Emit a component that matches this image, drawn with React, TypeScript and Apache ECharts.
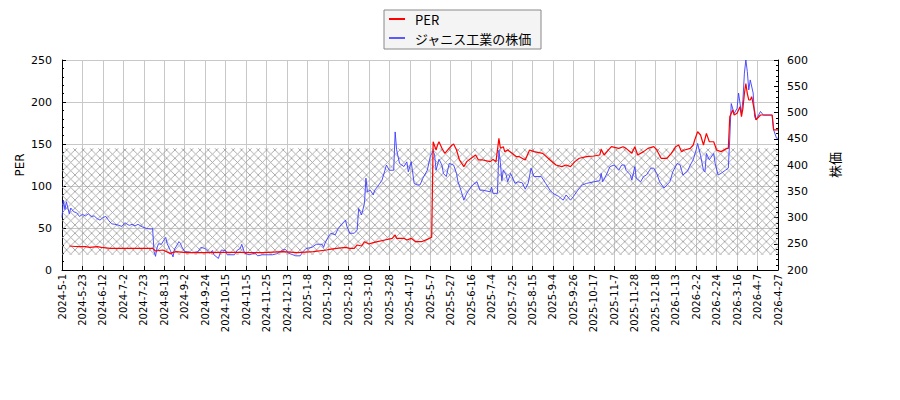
import { useRef, useEffect } from "react";
import * as echarts from "echarts";

// x values are trading-day indices; a tick label every 14 trading days
const TICK_STEP = 14;
const tickLabels = [
  "2024-5-1", "2024-5-23", "2024-6-12", "2024-7-2", "2024-7-23", "2024-8-13",
  "2024-9-2", "2024-9-24", "2024-10-15", "2024-11-5", "2024-11-25", "2024-12-13",
  "2025-1-8", "2025-1-29", "2025-2-18", "2025-3-10", "2025-3-28", "2025-4-17",
  "2025-5-7", "2025-5-27", "2025-6-16", "2025-7-4", "2025-7-25", "2025-8-15",
  "2025-9-4", "2025-9-26", "2025-10-17", "2025-11-7", "2025-11-28", "2025-12-18",
  "2026-1-13", "2026-2-2", "2026-2-24", "2026-3-16", "2026-4-7", "2026-4-27",
];

const perSeries: [number, number][] = [
  [5, 28.6], [9, 28], [12, 27.8], [16, 27.8], [19, 27], [24, 27.8], [27, 27], [33, 25.8],
  [46, 25.8], [60, 25.8], [62, 25.8], [64, 22.6], [69, 23.8], [74, 19.8], [78, 21.8],
  [85, 20.6], [97, 20.6], [110, 21], [122, 21], [129, 20.6], [138, 20.6], [151, 21.8],
  [161, 20.6], [172, 21.8], [181, 23.8], [183, 24.6], [188, 25.8], [194, 27], [197, 25.8],
  [200, 25.8], [202, 29.8], [205, 28.6], [207, 33.7], [210, 31], [213, 32.5], [216, 33.7],
  [221, 35.7], [226, 37.7], [228, 41.7], [229, 37.7], [234, 37.7], [236, 35.7], [239, 37.7],
  [242, 33.7], [246, 33.7], [250, 36.5], [253, 38.9], [254, 152.7], [256, 142.9],
  [257, 148.8], [258, 152.7], [260, 145], [262, 138.9], [264, 142.9], [267, 148.8],
  [268, 150], [270, 142.9], [272, 131], [275, 123], [277, 129], [280, 133], [283, 137],
  [285, 131], [288, 131], [293, 129], [295, 131.7], [297, 129], [299, 156.7], [300, 145],
  [302, 146.8], [303, 140.9], [305, 142.9], [308, 138.9], [311, 134.9], [313, 134.9],
  [317, 131], [320, 142.9], [323, 140.9], [329, 138.9], [334, 131], [338, 125], [342, 123],
  [345, 125], [348, 123], [351, 129], [354, 133], [359, 134.9], [364, 135.7], [368, 136.9],
  [369, 143.7], [371, 136.9], [374, 142.9], [376, 146.8], [381, 144.8], [384, 146.8],
  [386, 144.8], [390, 138.9], [392, 146.8], [394, 136.9], [398, 140.9], [401, 144.8],
  [405, 146.8], [407, 142.9], [410, 133], [414, 133], [417, 138.9], [420, 146.8],
  [422, 148.8], [424, 140.9], [426, 142.9], [430, 144.8], [432, 148.8], [433, 154.8],
  [435, 164.6], [437, 160.7], [439, 148.8], [441, 162.7], [443, 152.7], [446, 152.7],
  [448, 142.9], [451, 140.9], [455, 144.8], [456, 144.8], [457, 182.5], [459, 190.5],
  [460, 184.5], [462, 186.5], [464, 194.4], [465, 182.5], [466, 192.5], [467, 210],
  [468, 222], [469, 210], [470, 202.4], [471, 202.4], [472, 206.3], [474, 188.5],
  [475, 178.6], [478, 184.5], [486, 184.5], [487, 166.7], [490, 166.7],
];

const priceSeries: [number, number][] = [
  [0, 300], [1, 333], [2, 315], [3, 330], [5, 307], [6, 318], [8, 311], [10, 309], [12, 302],
  [14, 306], [16, 303], [18, 307], [20, 302], [22, 303], [24, 298], [26, 295], [28, 300],
  [30, 302], [32, 294], [34, 288], [36, 287], [38, 286], [41, 283], [43, 290], [46, 285],
  [48, 287], [50, 284], [52, 287], [55, 282], [58, 279], [61, 278], [62, 279], [63, 235],
  [64, 226], [65, 242], [66, 250], [68, 249], [70, 258], [71, 262], [72, 250], [74, 238],
  [76, 225], [77, 240], [78, 244], [80, 254], [81, 251], [82, 244], [84, 235], [86, 235],
  [89, 233], [93, 235], [95, 243], [98, 241], [101, 232], [103, 237], [104, 229], [107, 222],
  [109, 238], [112, 237], [113, 229], [118, 229], [120, 238], [122, 241], [123, 249],
  [125, 232], [128, 229], [132, 232], [134, 227], [137, 229], [141, 229], [144, 229],
  [147, 231], [151, 238], [153, 239], [155, 232], [158, 229], [160, 227], [163, 227],
  [165, 235], [167, 241], [171, 243], [174, 249], [178, 249], [179, 243], [180, 251],
  [182, 262], [184, 270], [187, 267], [189, 279], [191, 286], [194, 295], [195, 283],
  [197, 270], [200, 270], [202, 276], [203, 317], [205, 305], [207, 327], [208, 375],
  [209, 349], [211, 352], [213, 343], [214, 352], [216, 359], [219, 371], [221, 390],
  [222, 400], [224, 390], [227, 390], [228, 463], [229, 429], [231, 403], [234, 397],
  [236, 406], [237, 387], [239, 406], [241, 365], [243, 362], [245, 362], [247, 375],
  [250, 390], [252, 416], [254, 427], [255, 419], [256, 390], [258, 411], [260, 400],
  [261, 384], [263, 378], [265, 403], [268, 400], [270, 384], [271, 368], [273, 352],
  [275, 333], [277, 346], [279, 354], [281, 362], [284, 368], [286, 352], [288, 352],
  [293, 349], [294, 358], [295, 346], [298, 346], [299, 428], [300, 405], [301, 370],
  [302, 390], [304, 381], [305, 368], [307, 384], [308, 378], [310, 365], [312, 368],
  [315, 366], [317, 354], [319, 365], [321, 394], [323, 378], [328, 378], [331, 365],
  [334, 352], [336, 346], [340, 340], [343, 333], [345, 343], [348, 333], [350, 340],
  [353, 352], [356, 362], [359, 365], [364, 368], [368, 370], [369, 384], [370, 368],
  [373, 384], [375, 397], [378, 400], [381, 390], [383, 400], [385, 400], [386, 390],
  [389, 381], [390, 371], [392, 397], [393, 375], [396, 368], [398, 378], [400, 381],
  [403, 394], [405, 394], [407, 384], [409, 368], [412, 356], [414, 362], [416, 368],
  [418, 387], [421, 403], [423, 400], [424, 390], [425, 381], [428, 388], [430, 400],
  [432, 410], [434, 429], [435, 441], [437, 418], [439, 390], [440, 387], [441, 422],
  [443, 410], [446, 422], [447, 403], [449, 381], [451, 384], [454, 390], [456, 394],
  [457, 451], [458, 517], [460, 498], [462, 508], [463, 537], [465, 498], [466, 524],
  [467, 575], [468, 600], [469, 578], [470, 543], [471, 562], [473, 537], [474, 492],
  [475, 486], [478, 502], [480, 495], [486, 495], [487, 467], [489, 451], [490, 451],
];

// hatched PER band
const hatchBand = [18, 145];

const FONT = "DejaVu Sans, Noto Sans CJK JP, sans-serif";
const GRID_GRAY = "#c8c8c8";

const HATCH = 8.33;
const hatchSvg =
  `<svg xmlns="http://www.w3.org/2000/svg" width="${HATCH}" height="${HATCH}" viewBox="0 0 ${HATCH} ${HATCH}">` +
  `<path d="M0 0L${HATCH} ${HATCH}M${HATCH} 0L0 ${HATCH}" stroke="#999999" stroke-width="0.8" fill="none"/></svg>`;
const hatchUrl = "data:image/svg+xml;charset=utf-8," + encodeURIComponent(hatchSvg);

export default function App() {
  const ref = useRef<HTMLDivElement>(null);

  useEffect(() => {
    if (!ref.current) return;
    const chart = echarts.init(ref.current, undefined, { renderer: "svg" });

    const tickCommon = {
      axisLine: { show: true, onZero: false, lineStyle: { color: "#000", width: 1 } },
      axisTick: { show: true, inside: true, length: 4, lineStyle: { color: "#000" } },
      minorTick: { show: true, splitNumber: 5, length: 2, lineStyle: { color: "#000" } },
    };

    chart.setOption({
      animation: false,
      backgroundColor: "#fff",
      textStyle: { fontFamily: FONT },
      grid: { left: 62, right: 122, top: 60, bottom: 130, containLabel: false },
      legend: {
        orient: "vertical",
        left: 384,
        top: 10,
        padding: [2, 9, 4, 5],
        itemGap: 5,
        itemWidth: 16,
        itemHeight: 2,
        icon: "rect",
        backgroundColor: "#f4f4f4",
        borderColor: "#888",
        borderWidth: 1,
        textStyle: {
          color: "#000",
          fontSize: 13,
          lineHeight: 14,
          fontFamily: "Noto Sans CJK JP, DejaVu Sans",
          padding: [0, 0, 0, 5],
        },
        data: ["PER", "ジャニス工業の株価"],
      },
      xAxis: {
        type: "value",
        min: 0,
        max: (tickLabels.length - 1) * TICK_STEP,
        interval: TICK_STEP,
        axisLine: { show: true, onZero: false, lineStyle: { color: "#000", width: 1 } },
        axisTick: { show: true, inside: true, length: 4, lineStyle: { color: "#000" } },
        splitLine: { show: true, lineStyle: { color: GRID_GRAY, width: 1 } },
        axisLabel: {
          rotate: 90,
          margin: 4,
          fontSize: 10,
          color: "#000",
          fontFamily: FONT,
          formatter: (v: number) => tickLabels[Math.round(v / TICK_STEP)] ?? "",
        },
      },
      yAxis: [
        {
          type: "value",
          position: "left",
          min: 0,
          max: 250,
          interval: 50,
          ...tickCommon,
          splitLine: { show: true, lineStyle: { color: GRID_GRAY, width: 1 } },
          axisLabel: { fontSize: 11, margin: 10, color: "#000", fontFamily: FONT },
          name: "PER",
          nameLocation: "middle",
          nameGap: 36,
          nameRotate: 90,
          nameMoveOverlap: false,
          nameTextStyle: { fontSize: 12, color: "#000", fontFamily: FONT },
        },
        {
          type: "value",
          position: "right",
          min: 200,
          max: 600,
          interval: 50,
          ...tickCommon,
          splitLine: { show: false },
          axisLabel: { fontSize: 11, margin: 9, color: "#000", fontFamily: FONT },
          name: "株価",
          nameLocation: "middle",
          nameGap: 50,
          nameRotate: 90,
          nameMoveOverlap: false,
          nameTextStyle: { fontSize: 13, color: "#000", fontFamily: "Noto Sans CJK JP" },
        },
      ],
      series: [
        {
          name: "PER",
          type: "line",
          yAxisIndex: 0,
          data: perSeries,
          symbol: "none",
          z: 4,
          itemStyle: { color: "#ff0000" },
          lineStyle: { color: "#ff0000", width: 1.2 },
          markArea: {
            silent: true,
            itemStyle: {
              color: {
                image: hatchUrl,
                repeat: "repeat",
                imageWidth: HATCH,
                imageHeight: HATCH,
              },
            },
            data: [[{ yAxis: hatchBand[0] }, { yAxis: hatchBand[1] }]],
          },
        },
        {
          name: "ジャニス工業の株価",
          type: "line",
          yAxisIndex: 1,
          data: priceSeries,
          symbol: "none",
          z: 3,
          itemStyle: { color: "#5a5aff" },
          lineStyle: { color: "#3b3bff", width: 0.9 },
        },
      ],
    });

    return () => chart.dispose();
  }, []);

  return (
    <div
      ref={ref}
      style={{ position: "absolute", left: 0, top: 0, width: 900, height: 400 }}
    />
  );
}
